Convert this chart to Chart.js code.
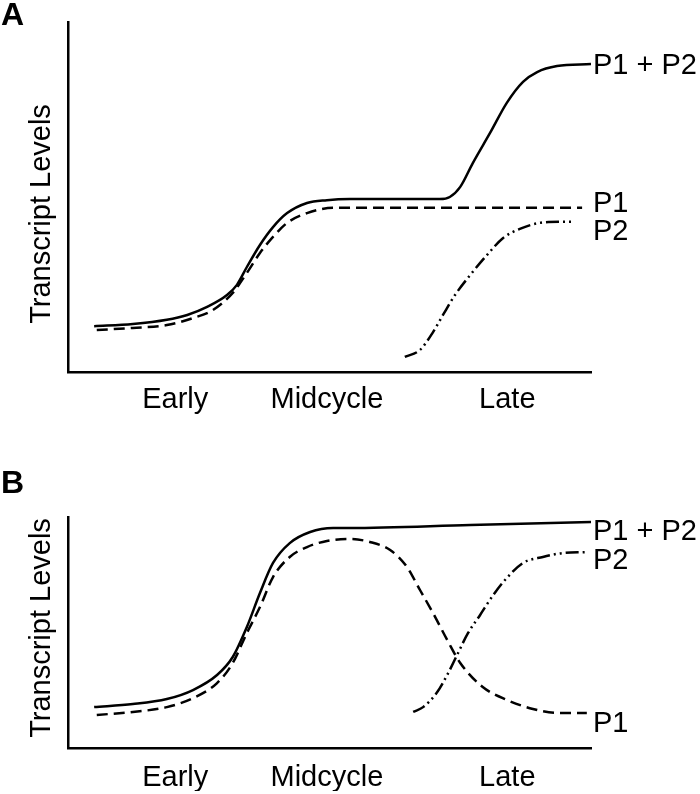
<!DOCTYPE html>
<html>
<head>
<meta charset="utf-8">
<script src="https://cdn.jsdelivr.net/npm/chart.js@4/dist/chart.umd.min.js"></script>
<style>
  html, body { margin: 0; padding: 0; background: #fff; }
  .panel { position: relative; width: 700px; }
  #panel-a { height: 420px; }
  #panel-b { height: 374px; }
</style>
</head>
<body>
<div class="panel" id="panel-a"><canvas id="chart-a"></canvas></div>
<div class="panel" id="panel-b"><canvas id="chart-b"></canvas></div>
<script>
// ── Data ─────────────────────────────────────────────────────
const stageLabels = ['Early', 'Midcycle', 'Late'];
const stagePos = [20.5, 49.5, 84];
const seriesNames = ['P1 + P2', 'P1', 'P2'];

// Panel A
const aSumX = [5, 12.4, 18.9, 22.8, 26.6, 30.4, 32.3, 34.2, 36.7, 39.2, 41.9, 45.7, 49.5, 53.9, 71.1, 73, 75, 77.4, 80.7, 83.9, 87, 89.7, 93.5, 100];
const aSumY = [13.1, 13.7, 14.9, 16.3, 18.6, 22.0, 24.9, 30.0, 36.3, 41.4, 45.4, 48.3, 49.1, 49.4, 49.4, 50.0, 52.9, 59.7, 68.3, 76.9, 82.9, 85.7, 87.4, 88.0];
const aP1X = [5.5, 12.4, 18.9, 23.9, 27.7, 31.5, 34.2, 36.7, 39.2, 41.9, 45.7, 50.7, 53.9, 98.3];
const aP1Y = [12.0, 12.6, 13.4, 15.4, 17.7, 22.6, 28.3, 34.0, 38.6, 42.6, 45.4, 46.9, 46.9, 46.9];
const aP2X = [64.4, 67.3, 69.8, 71.7, 74.0, 76.9, 80.1, 83.2, 86.4, 90.2, 94.1, 96.9];
const aP2Y = [4.3, 6.3, 11.4, 16.3, 22.0, 27.7, 33.4, 38.3, 40.9, 42.6, 42.9, 42.9];

// Panel B
const bSumX = [5, 12.4, 18.9, 23.9, 28.5, 31.5, 34.2, 36.7, 39.2, 42.4, 46.3, 50.7, 53.9, 76.9, 100];
const bSumY = [17.7, 19.0, 21.2, 25.1, 31.6, 39.4, 52.4, 67.1, 80.1, 88.7, 93.5, 95.2, 95.2, 96.5, 97.8];
const bP1X = [5.5, 12.4, 18.9, 23.9, 28.5, 31.5, 34.2, 36.7, 39.2, 42.4, 45.7, 49.5, 53.9, 57.7, 61.6, 64.8, 67.3, 69.8, 72.5, 75.0, 79.3, 83.9, 88.9, 93.5, 99.2];
const bP1Y = [14.3, 15.6, 17.7, 21.6, 28.1, 36.8, 49.8, 61.0, 74.0, 82.7, 87.0, 89.6, 90.5, 89.2, 85.7, 78.4, 68.4, 58.4, 46.8, 36.8, 26.4, 20.8, 16.9, 15.2, 15.2];
const bP2X = [66.0, 67.9, 70.6, 72.5, 74.4, 76.5, 78.8, 81.3, 83.9, 87.0, 90.8, 94.6, 98.9];
const bP2Y = [15.6, 17.7, 24.2, 31.6, 40.3, 49.8, 57.6, 66.2, 73.6, 80.1, 82.7, 84.4, 84.8];

// ── Styles ───────────────────────────────────────────────────
const FONT_FAMILY = '"Liberation Sans", Arial, Helvetica, sans-serif';
const LINE_STYLES = [[], [11, 6], [13, 4, 2, 4, 2, 4]];

const toPoints = (xs, ys) => xs.map((x, i) => ({ x, y: ys[i] }));

// ── Text plugin: panel letter, y title, curve end labels ─────
const panelText = {
    id: 'panelText',
    afterDraw(chart, args, opts) {
        const { ctx, chartArea } = chart;
        ctx.save();
        ctx.fillStyle = '#000';
        ctx.textBaseline = 'alphabetic';

        ctx.font = `bold 32px ${FONT_FAMILY}`;
        ctx.textAlign = 'left';
        ctx.fillText(opts.letter, 1, opts.letterBase);

        ctx.font = `29px ${FONT_FAMILY}`;
        chart.data.datasets.forEach((ds, i) => {
            const pts = chart.getDatasetMeta(i).data;
            const last = pts[pts.length - 1];
            ctx.fillText(ds.label, chartArea.right + 2, last.y + opts.labelShift[i] + 10.4);
        });

        ctx.translate(50, opts.titleMid);
        ctx.rotate(-Math.PI / 2);
        ctx.textAlign = 'center';
        ctx.fillText('Transcript Levels', 0, 0);
        ctx.restore();
    }
};

function buildChart(id, series, padding, tickPad, text) {
    const canvas = document.getElementById(id);
    const datasets = series.map((pts, i) => ({
        label: seriesNames[i],
        data: pts,
        borderColor: '#000',
        borderWidth: 2.5,
        borderDash: LINE_STYLES[i],
        pointRadius: 0,
        fill: false,
        cubicInterpolationMode: 'monotone'
    }));

    return new Chart(canvas, {
        type: 'line',
        data: { datasets },
        plugins: [panelText],
        options: {
            responsive: true,
            maintainAspectRatio: false,
            animation: false,
            layout: { padding },
            plugins: {
                legend: { display: false },
                tooltip: { enabled: false },
                panelText: text
            },
            scales: {
                x: {
                    type: 'linear',
                    min: 0,
                    max: 100,
                    grid: { display: false, drawTicks: false },
                    border: { display: true, color: '#000', width: 2.5 },
                    afterBuildTicks: (scale) => {
                        scale.ticks = stagePos.map(v => ({ value: v }));
                    },
                    afterFit: (scale) => { scale.height = 43; },
                    ticks: {
                        color: '#000',
                        padding: tickPad,
                        autoSkip: false,
                        maxRotation: 0,
                        font: { family: FONT_FAMILY, size: 29 },
                        callback: (v, i) => stageLabels[i]
                    }
                },
                y: {
                    min: 0,
                    max: 100,
                    grid: { display: false, drawTicks: false },
                    border: { display: true, color: '#000', width: 2.5 },
                    ticks: { display: false }
                }
            }
        }
    });
}

// ── Init ─────────────────────────────────────────────────────
buildChart('chart-a',
    [toPoints(aSumX, aSumY), toPoints(aP1X, aP1Y), toPoints(aP2X, aP2Y)],
    { left: 68, right: 109, top: 22, bottom: 5 }, 11,
    { letter: 'A', letterBase: 25, titleMid: 214, labelShift: [0, -6, 8] });

buildChart('chart-b',
    [toPoints(bSumX, bSumY), toPoints(bP1X, bP1Y), toPoints(bP2X, bP2Y)],
    { left: 68, right: 109, top: 97, bottom: 3 }, 13,
    { letter: 'B', letterBase: 73, titleMid: 208, labelShift: [8, 9, 6] });
</script>
</body>
</html>
